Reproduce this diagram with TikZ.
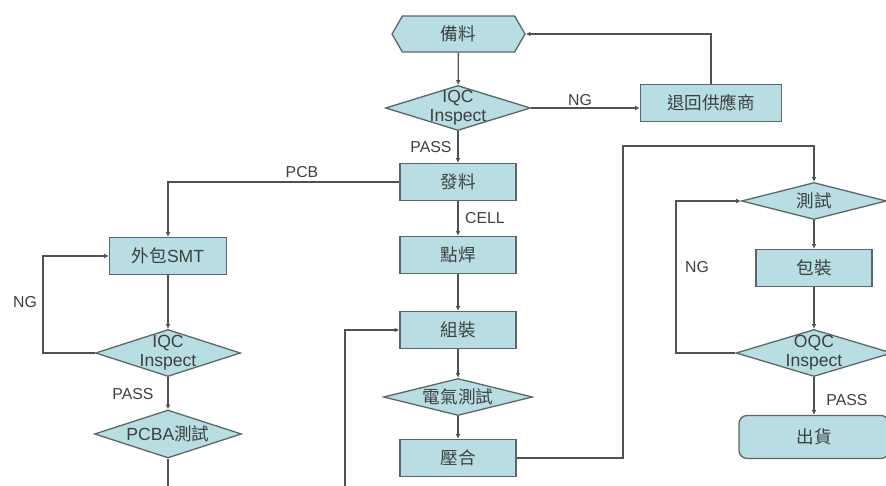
\documentclass[tikz,border=0pt]{standalone}
\usepackage{fontspec}
\setmainfont{Liberation Sans}
\newfontfamily\cjk{Noto Sans CJK TC}
\usepackage{tikz}
\usetikzlibrary{
    positioning,
    arrows.meta,
    shapes.geometric,
    shapes.symbols,
}
\definecolor{boxfill}{RGB}{184,221,226}
\definecolor{boxedge}{RGB}{90,102,104}
\definecolor{linegray}{RGB}{80,82,82}
\definecolor{textgray}{RGB}{60,64,64}
\tikzset{
    % Basic node styles
    base/.style={draw=boxedge, fill=boxfill, line width=1.1pt, text=textgray,
                 font=\fontsize{15}{15}\selectfont, align=center, inner sep=0pt},
    proc/.style={base, rectangle, minimum width=3.48cm, minimum height=1.11cm},
    term/.style={proc, rounded corners=7pt},
    hexa/.style={base, signal, signal to=west and east, signal pointer angle=120,
                 minimum width=3.99cm, minimum height=1.08cm},
    dec/.style={base, diamond, aspect=3},
    % Text inside the diamonds
    dectext/.style={text=textgray, font=\fontsize{15}{16}\selectfont, align=center},
    % Arrow styles
    arrow/.style={-{Latex[length=4pt, width=4pt]}, line width=1.1pt, draw=linegray},
    line/.style={line width=1.1pt, draw=linegray},
    % Annotation styles
    annot/.style={font=\fontsize{13.5}{14}\selectfont, text=textgray},
}

\begin{document}
\begin{tikzpicture}[x=0.03cm, y=-0.03cm]
    \useasboundingbox (0,0) rectangle (886,486);

    % Incoming material
    \node[hexa] (stock) at (458.5,34) {\cjk 備料};
    \node[dec, minimum width=4.35cm, minimum height=1.35cm,
          label={[dectext]center:IQC\\Inspect}] (iqc) at (458,108) {};
    \node[proc, minimum width=4.23cm] (ret) at (711,103) {\cjk 退回供應商};

    % Main line
    \node[proc] (issue) at (458,182) {\cjk 發料};
    \node[proc] (weld) at (458,255) {\cjk 點焊};
    \node[proc] (asm) at (458,330) {\cjk 組裝};
    \node[dec, minimum width=4.47cm, minimum height=1.11cm,
          label={[dectext]center:{\cjk 電氣測試}}] (elec) at (458,397) {};
    \node[proc] (press) at (458,458) {\cjk 壓合};

    % PCB branch
    \node[proc, minimum width=3.51cm] (smt) at (168,256) {{\cjk 外包}SMT};
    \node[dec, minimum width=4.35cm, minimum height=1.41cm,
          label={[dectext]center:IQC\\Inspect}] (iqcb) at (168,353) {};
    \node[dec, minimum width=4.41cm, minimum height=1.44cm,
          label={[dectext]center:PCBA{\cjk 測試}}] (pcba) at (168,434) {};

    % Final test and shipping
    \node[dec, minimum width=4.35cm, minimum height=1.11cm,
          label={[dectext]center:{\cjk 測試}}] (test) at (814,201) {};
    \node[proc] (pack) at (814,268) {\cjk 包裝};
    \node[dec, minimum width=4.68cm, minimum height=1.41cm,
          label={[dectext]center:OQC\\Inspect}] (oqc) at (814,353) {};
    \node[term, minimum width=4.5cm, minimum height=1.29cm] (ship) at (814,437) {\cjk 出貨};

    % Turning points
    \coordinate (pcbout) at (168,492);
    \coordinate (asmin) at (345,492);
    \coordinate (turn) at (623,146);
    \coordinate (ngl) at (43,353);
    \coordinate (ngr) at (676,353);

    % Arrows
    \draw[arrow] (stock) -- (iqc);
    \draw[arrow] (iqc.east) -- (iqc.east -| ret.west);
    \draw[arrow] (ret.north) |- (stock.east);
    \draw[arrow] (iqc) -- (issue);
    \draw[arrow] (issue.west) -| (smt.north);
    \draw[arrow] (issue) -- (weld);
    \draw[arrow] (weld) -- (asm);
    \draw[arrow] (asm) -- (elec);
    \draw[arrow] (elec) -- (press);
    \draw[arrow] (asmin) |- (asm.west);
    \draw[arrow] (press.east) -| (turn) -| (test.north);
    \draw[arrow] (smt) -- (iqcb);
    \draw[arrow] (iqcb.west) -- (ngl) |- (smt.west);
    \draw[arrow] (iqcb) -- (pcba);
    \draw[line] (pcba.south) -- (pcbout);
    \draw[arrow] (test) -- (pack);
    \draw[arrow] (pack) -- (oqc);
    \draw[arrow] (oqc.west) -- (ngr) |- (test.west);
    \draw[arrow] (oqc) -- (ship);

    % Path labels
    \node[annot] at (580,100) {NG};
    \node[annot] at (431,147) {PASS};
    \node[annot] at (302,172) {PCB};
    \node[annot] at (485,218) {CELL};
    \node[annot] at (25,302) {NG};
    \node[annot] at (133,394) {PASS};
    \node[annot] at (697,267) {NG};
    \node[annot] at (847,400) {PASS};
\end{tikzpicture}
\end{document}
